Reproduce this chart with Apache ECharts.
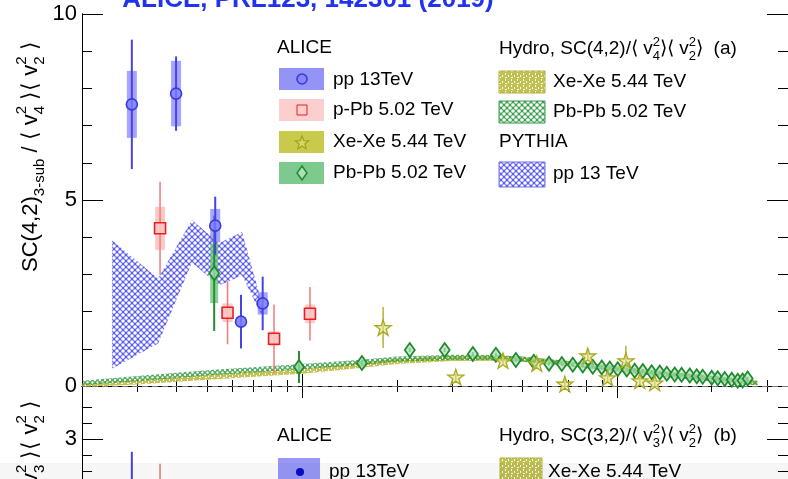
<!DOCTYPE html>
<html>
<head>
<meta charset="utf-8">
<script src="https://cdn.jsdelivr.net/npm/echarts@6/dist/echarts.min.js"></script>
<style>
html,body{margin:0;padding:0;background:#fff;overflow:hidden}
#chart{width:788px;height:479px}
</style>
</head>
<body>
<div id="chart"></div>
<script>
// ---- ALICE data: SC(4,2)_3-sub / <v4^2><v2^2> vs multiplicity ----
const ppX = [28.8, 39.8, 53, 64, 75];
const ppY = [7.57, 7.86, 4.31, 1.73, 2.22];
const ppStat = [1.74, 1.0, 0.78, 0.72, 0.72];
const ppSyst = [0.9, 0.88, 0.45, 0.12, 0.3];

const pPbX = [35.4, 58, 81.5, 106];
const pPbY = [4.24, 1.97, 1.27, 1.94];
const pPbStat = [1.25, 0.85, 0.92, 0.72];
const pPbSyst = [0.58, 0.25, 0.2, 0.25];

const xeX = [181, 308, 435, 557, 684, 809, 935, 1069, 1184, 1320];
const xeY = [1.57, 0.24, 0.68, 0.60, 0.05, 0.81, 0.22, 0.68, 0.14, 0.08];
const xeStat = [0.55, 0.08, 0.1, 0.1, 0.1, 0.12, 0.1, 0.4, 0.1, 0.1];
const xeSyst = [0, 0, 0, 0, 0, 0, 0, 0, 0, 0];

const pbX = [52.6, 97.8, 155, 220, 284, 349, 413, 478, 545, 609, 669, 725, 780, 839, 896, 950, 1007, 1076, 1140, 1210, 1291, 1370, 1442, 1528, 1607, 1706, 1795, 1875, 2003, 2093, 2203, 2319, 2423, 2512, 2606];
const pbY = [3.03, 0.51, 0.62, 0.97, 0.97, 0.86, 0.84, 0.70, 0.65, 0.60, 0.59, 0.57, 0.55, 0.52, 0.50, 0.47, 0.45, 0.44, 0.41, 0.40, 0.37, 0.36, 0.33, 0.31, 0.30, 0.28, 0.26, 0.25, 0.22, 0.21, 0.19, 0.17, 0.14, 0.15, 0.20];
const pbStat = [1.55, 0.43, 0.08, 0.06, 0.06, 0.05, 0.05, 0.05, 0.05, 0.05, 0.05, 0.05, 0.05, 0.05, 0.05, 0.05, 0.05, 0.05, 0.05, 0.05, 0.05, 0.05, 0.05, 0.05, 0.05, 0.05, 0.05, 0.05, 0.05, 0.05, 0.05, 0.05, 0.05, 0.05, 0.05];
const pbSyst = [0.8, 0.08, 0, 0, 0, 0, 0, 0, 0, 0, 0, 0, 0, 0, 0, 0, 0, 0, 0, 0, 0, 0, 0, 0, 0, 0, 0, 0, 0, 0, 0, 0, 0, 0, 0];

// ---- model bands ----
const pyX = [24.9, 34.9, 44.7, 54.5, 64.5, 75];
const pyLo = [0.46, 1.14, 3.32, 2.70, 2.97, 1.85];
const pyHi = [3.92, 2.89, 4.46, 3.84, 4.14, 2.15];

const hydroX = [20, 30, 50, 100, 150, 200, 300, 400, 500, 700, 1000, 1500, 2000, 2800];
const hydroPbLo = [0.02, 0.13, 0.28, 0.45, 0.56, 0.65, 0.70, 0.69, 0.65, 0.53, 0.39, 0.23, 0.13, 0.02];
const hydroPbHi = [0.14, 0.27, 0.42, 0.59, 0.70, 0.79, 0.84, 0.83, 0.79, 0.67, 0.53, 0.37, 0.27, 0.14];
const hydroXeLo = [-0.03, 0.04, 0.17, 0.33, 0.48, 0.59, 0.67, 0.68, 0.65, 0.53, 0.39, 0.23, 0.13, 0.02];
const hydroXeHi = [0.07, 0.16, 0.31, 0.47, 0.62, 0.73, 0.81, 0.82, 0.79, 0.67, 0.53, 0.37, 0.27, 0.14];

// ---- lower panel (SC(3,2)) visible pieces ----
const ppBX = [28.8];
const ppBY = [1.8];
const ppBStat = [1.04];
const pPbBX = [35.4];
const pPbBY = [1.9];
const pPbBStat = [0.79];

// ---- axis ticks ----
const X_MIN = 20, X_MAX = 3500;
const xMajor = [100, 1000];
const xMinor = [30, 40, 50, 60, 70, 80, 90, 200, 300, 400, 500, 600, 700, 800, 900, 2000, 3000];
const yMajorA = [0, 5, 10];
const yMinorA = [1, 2, 3, 4, 6, 7, 8, 9];
const yMajorB = [-1, 0, 1, 2, 3];
const yMinorB = [];
for (let k = -7; k <= 17; k++) { if (k % 5 !== 0) yMinorB.push(+(k * 0.2).toFixed(1)); }

const FONT = '"Liberation Sans", Arial, Helvetica, sans-serif';

// ---- fill patterns ----
function latticePattern(bg, size, r) {
  const c = document.createElement('canvas');
  c.width = c.height = size;
  const g = c.getContext('2d');
  g.fillStyle = bg; g.fillRect(0, 0, size, size);
  g.globalCompositeOperation = 'destination-out';
  g.fillStyle = '#000';
  [[0, 0], [size, 0], [0, size], [size, size], [size / 2, size / 2]].forEach(p => {
    g.beginPath(); g.arc(p[0], p[1], r, 0, Math.PI * 2); g.fill();
  });
  return { image: c, repeat: 'repeat' };
}
function stripePattern(bg, size) {
  const c = document.createElement('canvas');
  c.width = size; c.height = size;
  const g = c.getContext('2d');
  g.fillStyle = bg; g.fillRect(0, 0, size, size);
  g.globalCompositeOperation = 'destination-out';
  g.fillStyle = '#000';
  g.fillRect(1, 1, 1, 2); g.fillRect(4, 3, 1, 2); g.fillRect(1, 5, 2, 1);
  return { image: c, repeat: 'repeat' };
}
const blueMesh = latticePattern('rgba(75,75,232,0.9)', 6, 1.8);
const greenMesh = latticePattern('rgba(40,150,60,0.8)', 5, 1.2);
const oliveFill = stripePattern('rgba(185,185,55,0.85)', 6);
const greenMeshLeg = latticePattern('rgba(40,150,60,0.9)', 6, 1.8);
const oliveLeg = stripePattern('rgba(190,190,70,0.95)', 6);

// ---- series builders ----
function bandSeries(xs, lo, hi, fill, z, xi, yi) {
  return {
    type: 'custom', xAxisIndex: xi, yAxisIndex: yi, z: z, silent: true, clip: true,
    data: xs.map((x, i) => [x, lo[i], hi[i]]),
    encode: { x: 0, y: [1, 2] },
    renderItem(params, api) {
      if (params.dataIndex !== 0) return null;
      const pts = [];
      for (let i = 0; i < xs.length; i++) pts.push(api.coord([xs[i], hi[i]]));
      for (let i = xs.length - 1; i >= 0; i--) pts.push(api.coord([xs[i], lo[i]]));
      return { type: 'polygon', shape: { points: pts }, style: { fill: fill } };
    }
  };
}
function errSeries(xs, ys, stat, syst, lineColor, lineW, boxColor, boxW, xi, yi) {
  return {
    type: 'custom', xAxisIndex: xi, yAxisIndex: yi, z: 4, silent: true, clip: true,
    data: xs.map((x, i) => [x, ys[i], stat[i], syst ? syst[i] : 0]),
    encode: { x: 0, y: 1 },
    renderItem(params, api) {
      const x = api.value(0), y = api.value(1), s = api.value(2), sy = api.value(3);
      const kids = [];
      if (sy > 0) {
        const a = api.coord([x, y + sy]), b = api.coord([x, y - sy]);
        kids.push({ type: 'rect', shape: { x: a[0] - boxW / 2, y: a[1], width: boxW, height: b[1] - a[1] }, style: { fill: boxColor } });
      }
      const t = api.coord([x, y + s]), d = api.coord([x, y - s]);
      kids.push({ type: 'line', shape: { x1: t[0], y1: t[1], x2: d[0], y2: d[1] }, style: { stroke: lineColor, lineWidth: lineW } });
      return { type: 'group', children: kids };
    }
  };
}
const STAR = 'path://M50,2 L61,36 L97,36 L68,57 L79,92 L50,71 L21,92 L32,57 L3,36 L39,36 Z';
function markSeries(xs, ys, symbol, size, fill, stroke, bw, xi, yi) {
  return {
    type: 'scatter', xAxisIndex: xi, yAxisIndex: yi, z: 6, silent: true,
    symbol: symbol, symbolSize: size, symbolKeepAspect: true,
    data: xs.map((x, i) => [x, ys[i]]),
    itemStyle: { color: fill, borderColor: stroke, borderWidth: bw, opacity: 1 }
  };
}

// ---- axes ----
const AX = { color: '#000', width: 1 };
function xAx(grid, pos, ticks, len, showLine) {
  return {
    type: 'log', logBase: 10, gridIndex: grid, position: pos, min: X_MIN, max: X_MAX,
    axisLine: { show: showLine, lineStyle: AX },
    axisTick: { show: true, inside: true, length: len, customValues: ticks, lineStyle: AX },
    axisLabel: { show: false }, splitLine: { show: false }
  };
}
function yAx(grid, pos, min, max, ticks, len, labels) {
  return {
    type: 'value', gridIndex: grid, position: pos, min: min, max: max,
    axisLine: { show: true, lineStyle: AX },
    axisTick: { show: true, inside: true, length: len, customValues: ticks, lineStyle: AX },
    axisLabel: labels ? { show: true, customValues: labels, fontSize: 22, fontFamily: FONT, color: '#000', margin: 5 } : { show: false },
    splitLine: { show: false }
  };
}

// ---- text helpers ----
const measureCtx = document.createElement('canvas').getContext('2d');
function textRun(segs, x, y, rotation, anchorEnd) {
  let pos = 0;
  const kids = [];
  segs.forEach(sg => {
    const font = (sg.w || 'normal') + ' ' + sg.s + 'px ' + FONT;
    measureCtx.font = font;
    const w = measureCtx.measureText(sg.t).width;
    kids.push({ type: 'text', x: pos, y: sg.dy || 0, silent: true,
      style: { text: sg.t, font: font, fill: sg.c || '#000', align: 'left', verticalAlign: 'middle' } });
    if (!sg.stack) pos += w;
  });
  if (anchorEnd) kids.forEach(k => { k.x -= pos; });
  return { type: 'group', x: x, y: y, rotation: rotation || 0, children: kids };
}
function ratioSegs(head, sub, i, s, ss, off) {
  return [
    { t: head, s: s },
    ...(sub ? [{ t: sub, s: ss, dy: off }] : []),
    { t: ' / \u27E8 v', s: s },
    { t: '2', s: ss, dy: -off, stack: true }, { t: i, s: ss, dy: off },
    { t: ' \u27E9\u27E8 v', s: s },
    { t: '2', s: ss, dy: -off, stack: true }, { t: '2', s: ss, dy: off },
    { t: ' \u27E9', s: s }
  ];
}
function hydroSegs(head, i, tag) {
  return [
    { t: head + '/\u27E8 v', s: 19 },
    { t: '2', s: 13, dy: -7, stack: true }, { t: i, s: 13, dy: 7 },
    { t: '\u27E9\u27E8 v', s: 19 },
    { t: '2', s: 13, dy: -7, stack: true }, { t: '2', s: 13, dy: 7 },
    { t: '\u27E9  ' + tag, s: 19 }
  ];
}
function legText(t, x, y) {
  return { type: 'text', x: x, y: y, silent: true, style: { text: t, font: '19px ' + FONT, fill: '#000', verticalAlign: 'middle' } };
}
function legRect(x, y, w, h, fill, stroke) {
  return { type: 'rect', silent: true, shape: { x: x, y: y, width: w, height: h }, style: { fill: fill, stroke: stroke || null, lineWidth: 1 } };
}
function starPts(cx, cy, R, r) {
  const p = [];
  for (let k = 0; k < 10; k++) {
    const a = -Math.PI / 2 + k * Math.PI / 5, rr = k % 2 ? r : R;
    p.push([cx + rr * Math.cos(a), cy + rr * Math.sin(a)]);
  }
  return p;
}

const chart = echarts.init(document.getElementById('chart'), null, { renderer: 'canvas' });

const graphics = [
  // header line
  { type: 'text', x: 308, y: 0, silent: true,
    style: { text: 'ALICE, PRL123, 142301 (2019)', font: 'bold 26px ' + FONT, fill: '#2233ee', align: 'center', verticalAlign: 'middle' } },
  // y-axis titles
  textRun(ratioSegs('SC(4,2)', '3-sub', '4', 22, 15, 9), 31, 272, Math.PI / 2),
  textRun(ratioSegs('SC(3,2)', '3-sub', '3', 22, 15, 9), 31, 400, Math.PI / 2, true),
  // ALICE legend, panel (a)
  legText('ALICE', 277, 48),
  legRect(279, 68, 45, 22, '#9494f6'),
  { type: 'circle', silent: true, shape: { cx: 302, cy: 79, r: 5 }, style: { fill: 'rgba(130,130,255,0.7)', stroke: '#3838d8', lineWidth: 1.5 } },
  legText('pp 13TeV', 333, 80),
  legRect(279, 99, 45, 22, '#fccfcf'),
  legRect(297, 105, 10, 10, 'rgba(255,205,205,1)', '#e62020'),
  legText('p-Pb 5.02 TeV', 333, 110),
  legRect(279, 131, 45, 22, '#c9c94c'),
  { type: 'polygon', silent: true, shape: { points: starPts(302, 143, 7, 3) }, style: { fill: 'rgba(215,215,110,0.9)', stroke: '#a3a31a', lineWidth: 1.2 } },
  legText('Xe-Xe 5.44 TeV', 333, 142),
  legRect(279, 162, 45, 22, '#7ec98e'),
  { type: 'polygon', silent: true, shape: { points: [[302, 166], [307, 173], [302, 180], [297, 173]] }, style: { fill: 'rgba(170,225,180,1)', stroke: '#1f8a2e', lineWidth: 1.5 } },
  legText('Pb-Pb 5.02 TeV', 333, 173),
  // model legend, panel (a)
  textRun(hydroSegs('Hydro, SC(4,2)', '4', '(a)'), 499, 49, 0),
  legRect(499, 71, 46, 22, oliveLeg, '#b0b040'),
  legText('Xe-Xe 5.44 TeV', 553, 82),
  legRect(499, 101, 46, 22, greenMeshLeg, '#3a9a4a'),
  legText('Pb-Pb 5.02 TeV', 553, 112),
  legText('PYTHIA', 499, 142),
  legRect(499, 162, 46, 25, blueMesh, '#7070e0'),
  legText('pp 13 TeV', 553, 174),
  // legend, panel (b)
  legText('ALICE', 277, 436),
  legRect(278, 458, 42, 32, '#9898f8'),
  { type: 'circle', silent: true, shape: { cx: 300, cy: 472, r: 4 }, style: { fill: '#0a0ad0' } },
  legText('pp 13TeV', 329, 472),
  textRun(hydroSegs('Hydro, SC(3,2)', '3', '(b)'), 499, 436, 0),
  legRect(500, 458, 42, 32, oliveLeg, '#b0b040'),
  legText('Xe-Xe 5.44 TeV', 548, 472),
  // soft grey strip along the lower edge
  { type: 'rect', silent: true, z: 100, shape: { x: 0, y: 463, width: 788, height: 16 }, style: { fill: 'rgba(0,0,0,0.035)' } }
];

const option = {
  backgroundColor: '#fff',
  animation: false,
  grid: [
    { left: 82, top: 14, width: 706, height: 385, outerBoundsMode: 'none', containLabel: false },
    { left: 82, top: 399, width: 706, height: 400, outerBoundsMode: 'none', containLabel: false }
  ],
  xAxis: [
    xAx(0, 'bottom', xMajor, 12, true),
    xAx(0, 'bottom', xMinor, 6, false),
    xAx(0, 'top', xMajor, 12, true),
    xAx(0, 'top', xMinor, 6, false),
    xAx(1, 'top', xMajor, 12, true),
    xAx(1, 'top', xMinor, 6, false)
  ],
  yAxis: [
    yAx(0, 'left', -0.35, 10, yMajorA, 21, yMajorA),
    yAx(0, 'left', -0.35, 10, yMinorA, 10, null),
    yAx(0, 'right', -0.35, 10, yMajorA, 21, null),
    yAx(0, 'right', -0.35, 10, yMinorA, 10, null),
    yAx(1, 'left', -1.5, 3.5, yMajorB, 21, [3]),
    yAx(1, 'left', -1.5, 3.5, yMinorB, 10, null),
    yAx(1, 'right', -1.5, 3.5, yMajorB, 21, null),
    yAx(1, 'right', -1.5, 3.5, yMinorB, 10, null)
  ],
  series: [
    bandSeries(hydroX, hydroXeLo, hydroXeHi, oliveFill, 1, 0, 0),
    bandSeries(hydroX, hydroPbLo, hydroPbHi, greenMesh, 1, 0, 0),
    bandSeries(pyX, pyLo, pyHi, blueMesh, 2, 0, 0),
    {
      type: 'scatter', xAxisIndex: 0, yAxisIndex: 0, data: [], silent: true,
      markLine: {
        silent: true, symbol: 'none', animation: false,
        label: { show: false },
        lineStyle: { color: '#777', width: 1, type: [6, 4] },
        data: [{ yAxis: 0 }]
      }
    },
    errSeries(pbX, pbY, pbStat, pbSyst, '#2b8a35', 2, 'rgba(100,195,115,0.75)', 8, 0, 0),
    errSeries(xeX, xeY, xeStat, xeSyst, '#b4b432', 1.5, null, 0, 0, 0),
    errSeries(ppX, ppY, ppStat, ppSyst, '#4444e4', 2, 'rgba(105,105,255,0.6)', 10, 0, 0),
    errSeries(pPbX, pPbY, pPbStat, pPbSyst, '#f07a7a', 1.5, 'rgba(255,170,170,0.65)', 10, 0, 0),
    markSeries(pbX, pbY, 'diamond', [10, 14], 'rgba(175,225,185,0.7)', '#1f8a2e', 1.8, 0, 0),
    markSeries(xeX, xeY, STAR, 16, 'rgba(225,225,140,0.6)', '#a9a91c', 1.3, 0, 0),
    markSeries(ppX, ppY, 'circle', 11, 'rgba(130,130,255,0.75)', '#3a3ad8', 1.6, 0, 0),
    markSeries(pPbX, pPbY, 'rect', 11, 'rgba(255,200,200,0.85)', '#e62020', 1.6, 0, 0),
    // lower panel
    errSeries(ppBX, ppBY, ppBStat, null, '#4444e4', 2, null, 0, 4, 4),
    errSeries(pPbBX, pPbBY, pPbBStat, null, '#f07a7a', 1.5, null, 0, 4, 4)
  ],
  graphic: graphics
};
chart.setOption(option);
</script>
</body>
</html>
